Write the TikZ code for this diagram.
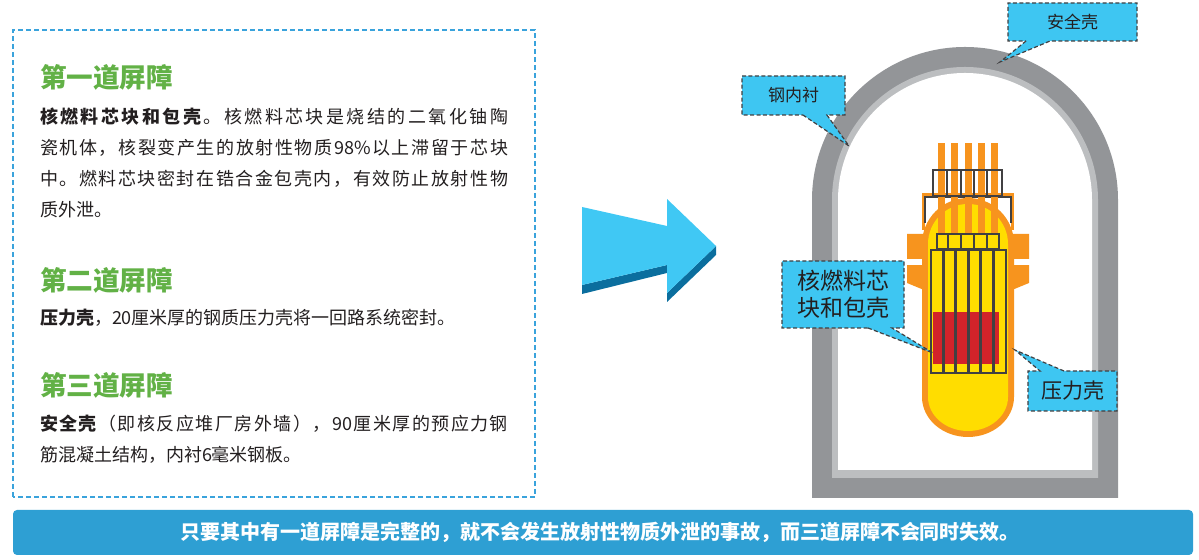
\documentclass[tikz,border=0pt]{standalone}
\usepackage{fontspec}
\setmainfont{Noto Sans CJK SC}
\usetikzlibrary{shapes.callouts}
\definecolor{shellgray}{HTML}{939598}
\definecolor{linergray}{HTML}{BCBEC0}
\definecolor{vesselorange}{HTML}{F7941E}
\definecolor{coreyellow}{HTML}{FFDD00}
\definecolor{fuelred}{HTML}{D2232A}
\definecolor{gridgray}{HTML}{414042}
\definecolor{tagblue}{HTML}{3EC6F2}
\definecolor{arrowblue}{HTML}{40C8F4}
\definecolor{arrowdark}{HTML}{0B6E9E}
\definecolor{framecyan}{HTML}{3AA3DC}
\definecolor{headgreen}{HTML}{62B146}
\definecolor{barblue}{HTML}{2E9FD3}
\definecolor{textdark}{HTML}{231F20}
% one justified line of the text panel
\makeatletter
\def\fl@endtok{\fl@end}
\def\fl@bftok{\bfseries}
\def\fl@mdtok{\mdseries}
\def\fl@loop#1{\def\fl@tok{#1}%
  \ifx\fl@tok\fl@endtok
  \else
    \ifx\fl@tok\fl@bftok #1\else\ifx\fl@tok\fl@mdtok #1\else #1\hskip0pt plus 1fil\fi\fi
    \expandafter\fl@loop
  \fi}
\newcommand\fullline[1]{\makebox[234pt][s]{\fl@loop#1\fl@end\unskip}}
\makeatother

\begin{document}
\begin{tikzpicture}
    [x=0.5pt, y=0.5pt, outer sep=0pt,
    note/.style={rectangle callout, draw=gridgray, dash pattern=on 2pt
      off 1.2pt, line width=0.6pt, fill=tagblue, inner sep=0pt,
      align=center, text=textdark, callout pointer width=12pt},
    heading/.style={anchor=west, inner sep=0pt, text=headgreen,
      font=\fontsize{13.3}{16}\selectfont\bfseries},
    desc/.style={anchor=north west, inner sep=0pt, align=left,
      text=textdark, font=\fontsize{9}{15.5}\selectfont},
    grid_line/.style={draw=gridgray, line width=0.75pt}]
    \useasboundingbox (0,0) rectangle (1199,560);

    % text panel
    \draw [framecyan, line width=0.75pt, dash pattern=on 2.5pt off 1.5pt] (13,63) rectangle (535,530);
    \node [heading] (first_title) at (40,483) {第一道屏障};
    \node [desc] (first_text) at (40,452) {\fullline{\bfseries 核燃料芯块和包壳\mdseries 。核燃料芯块是烧结的二氧化铀陶}\\
      \fullline{瓷机体，核裂变产生的放射性物质{98\%}以上滞留于芯块}\\
      \fullline{中。燃料芯块密封在锆合金包壳内，有效防止放射性物}\\
      质外泄。};
    \node [heading] (second_title) at (40,280) {第二道屏障};
    \node [desc] (second_text) at (40,251) {\textbf{压力壳}，20厘米厚的钢质压力壳将一回路系统密封。};
    \node [heading] (third_title) at (40,175) {第三道屏障};
    \node [desc] (third_text) at (40,145) {\fullline{\bfseries 安全壳\mdseries （即核反应堆厂房外墙），{90}厘米厚的预应力钢}\\
      筋混凝土结构，内衬6毫米钢板。};

    % big arrow
    \fill [arrowdark] (582,275) -- (667,295) -- (667,287) -- (582,266) -- cycle;
    \fill [arrowdark] (716,314) -- (667,267) -- (667,258) -- (716,305) -- cycle;
    \fill [arrowblue] (582,353) -- (667,334) -- (667,361) -- (716,314) -- (667,267)
      -- (667,295) -- (582,275) -- cycle;

    % containment
    \fill [shellgray] (812,62) -- (812,360) arc (180:0:153) -- (1118,62) -- cycle;
    \fill [linergray] (832,82) -- (832,360) arc (180:0:133) -- (1098,82) -- cycle;
    \fill [white] (838,90) -- (838,360) arc (180:0:127) -- (1092,90) -- cycle;

    % pressure vessel
    \fill [vesselorange] (907,326) -- (924,326) -- (924,270) -- (907,277) -- cycle;
    \fill [vesselorange] (1029,326) -- (1012,326) -- (1012,270) -- (1029,277) -- cycle;
    \fill [white] (906,295) rectangle (923,301);
    \fill [white] (1013,295) rectangle (1030,301);
    \draw [vesselorange, line width=1.5pt] (923.5,330) -- (923.5,365) -- (1012.5,365) -- (1012.5,330);
    \fill [vesselorange] (922,316) arc (180:0:46) -- (1014,163)
      arc [start angle=0, end angle=-180, x radius=46, y radius=40] -- cycle;
    \fill [coreyellow] (928,316) arc (180:0:40) -- (1008,163)
      arc [start angle=0, end angle=-180, x radius=40, y radius=34] -- cycle;
    \draw [grid_line] (925,337) -- (925,363) -- (1011,363) -- (1011,337);

    % control rods
    \foreach \i in {0,...,4}
      \fill [vesselorange] ({938+13.25*\i},326) rectangle ++(7,91);
    \draw [grid_line] (933,364) rectangle (1002,390);
    \foreach \x in {947,961,974,987}
      \draw [grid_line] (\x,364) -- (\x,390);

    % fuel assembly
    \draw [grid_line, fill=coreyellow] (937,311) rectangle (999,326);
    \foreach \x in {948,961,974,987}
      \draw [grid_line] (\x,311) -- (\x,326);
    \draw [grid_line, fill=coreyellow] (931,187) rectangle (1006,310);
    \fill [fuelred] (933,196) rectangle (999,248);
    \foreach \i in {0,...,4}
      \fill [gridgray] ({941.5+12.5*\i},187) rectangle ++(3,123);
    \draw [grid_line] (931,187) rectangle (1006,310);

    % labels
    \node [note, minimum width=64.5pt, minimum height=19pt, font=\fontsize{8.5}{10}\selectfont,
      callout absolute pointer={(1000,498)}] (shell_tag) at (1072.5,538) {安全壳};
    \node [note, minimum width=51.5pt, minimum height=19.5pt, font=\fontsize{8.5}{10}\selectfont,
      callout absolute pointer={(849,414)}] (liner_tag) at (793.5,464.5) {钢内衬};
    \node [note, minimum width=61pt, minimum height=33.5pt, font=\fontsize{11.5}{13.5}\selectfont,
      callout absolute pointer={(933,207)}] (fuel_tag) at (843,265.5) {核燃料芯\\块和包壳};
    \node [note, minimum width=44.5pt, minimum height=20pt, font=\fontsize{10.5}{12}\selectfont,
      callout absolute pointer={(1015,210)}] (vessel_tag) at (1072.5,169) {压力壳};

    % summary bar
    \fill [barblue, rounded corners=2pt] (13,5) rectangle (1193,50);
    \node [text=white, font=\fontsize{10}{12}\selectfont\bfseries] (summary) at (600,28)
      {只要其中有一道屏障是完整的，就不会发生放射性物质外泄的事故，而三道屏障不会同时失效。};
  \end{tikzpicture}
\end{document}
